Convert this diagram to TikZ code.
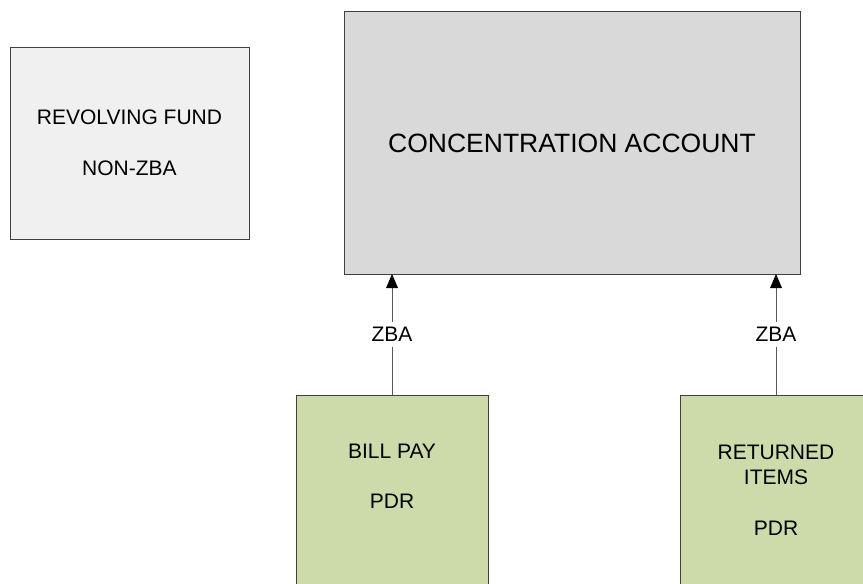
\documentclass[tikz,border=0pt]{standalone}
\usepackage{fontspec}
\setmainfont{Liberation Sans}
\usetikzlibrary{arrows.meta}
\definecolor{fundfill}{RGB}{240,240,240}
\definecolor{concfill}{RGB}{217,217,217}
\definecolor{pdrfill}{RGB}{205,219,171}
\definecolor{edge}{RGB}{64,64,64}
\definecolor{wire}{RGB}{90,90,90}

\begin{document}
\begin{tikzpicture}[x=1pt,y=-1pt,
  acct/.style={draw=edge, line width=1pt, rectangle, inner sep=0pt, outer sep=0pt},
  txt/.style={font=\fontsize{21}{25.5}\selectfont, align=center, inner sep=0pt},
  bigtxt/.style={font=\fontsize{26.5}{30}\selectfont, align=center, inner sep=0pt},
  link/.style={draw=wire, line width=1pt,
    -{Triangle[length=14pt,width=12pt,fill=black,line width=0pt]}},
  tag/.style={font=\fontsize{21}{25}\selectfont, fill=white, inner xsep=3pt, inner ysep=5pt}
]
\useasboundingbox (0,0) rectangle (863,584);
\clip (0,0) rectangle (863,584);

% account boxes
\node[acct, fill=fundfill, minimum width=239pt, minimum height=192pt] (fund) at (129.5,143) {};
\node[acct, fill=concfill, minimum width=456pt, minimum height=263pt] (conc) at (572,142.5) {};
\node[acct, fill=pdrfill, minimum width=192pt, minimum height=245pt] (bill) at (392,517.5) {};
\node[acct, fill=pdrfill, minimum width=192pt, minimum height=245pt] (ret) at (776,517.5) {};

% box captions
\node[txt] (fundtxt) at (fund.center) {REVOLVING FUND\\[25pt]NON-ZBA};
\node[bigtxt] (conctxt) at (572,143) {CONCENTRATION ACCOUNT};
\node[txt] (billtxt) at (392,476.5) {BILL PAY\\[25pt]PDR};
\node[txt] (rettxt) at (776,490) {RETURNED\\ITEMS\\[25pt]PDR};

% zero-balance sweeps into the concentration account
\draw[link] (bill.north) -- node[tag] (zba1) {ZBA} (bill.north |- conc.south);
\draw[link] (ret.north) -- node[tag] (zba2) {ZBA} (ret.north |- conc.south);
\end{tikzpicture}
\end{document}
